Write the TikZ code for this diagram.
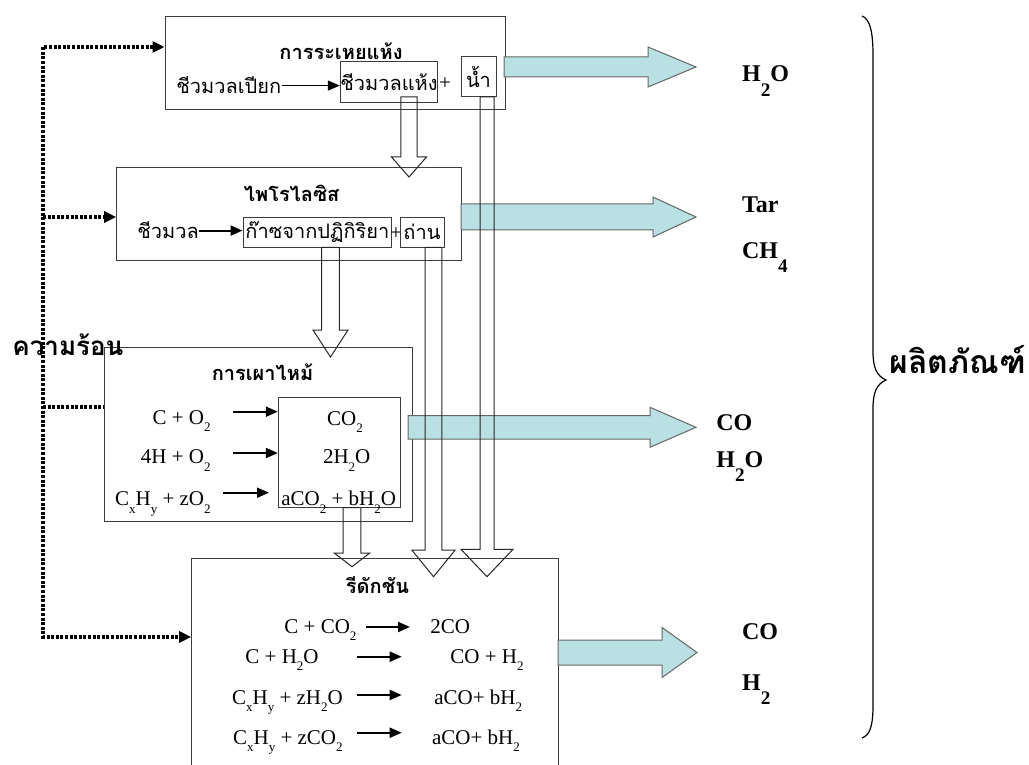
\documentclass[tikz,border=0pt]{standalone}
\usepackage{fontspec}
\setmainfont{Liberation Serif}
\newfontfamily\thai[Script=Thai]{Loma}
\usetikzlibrary{arrows.meta}

\definecolor{outflowfill}{RGB}{185,224,227}
\definecolor{boxline}{RGB}{60,60,60}

% low subscripts as in the slide
\newcommand{\csub}[1]{\raisebox{-0.38em}{\scalebox{0.62}{#1}}}
\newcommand{\bsub}[1]{\raisebox{-0.6em}{\scalebox{0.8}{#1}}}

% hollow arrow pointing down: x, y start, y tip, half shaft, half head, head length
\newcommand{\hollowdown}[6]{%
  \draw[hollow] ({#1-#4},#2) -- ({#1-#4},{#3-#6}) -- ({#1-#5},{#3-#6}) -- (#1,#3)
    -- ({#1+#5},{#3-#6}) -- ({#1+#4},{#3-#6}) -- ({#1+#4},#2) -- cycle;}

% filled arrow pointing right: x start, x head, x tip, y, half shaft, half head
\newcommand{\outarrow}[6]{%
  \draw[outflow] (#1,{#4-#5}) -- (#2,{#4-#5}) -- (#2,{#4-#6}) -- (#3,#4)
    -- (#2,{#4+#6}) -- (#2,{#4+#5}) -- (#1,{#4+#5}) -- cycle;}

\tikzset{
  procbox/.style={draw=boxline, line width=0.5pt, inner sep=0pt},
  itembox/.style={draw=boxline, line width=0.5pt, inner sep=0pt},
  thaititle/.style={font=\thai\bfseries\fontsize{10}{12}\selectfont, inner sep=0pt, anchor=base},
  thaitext/.style={font=\thai\fontsize{10}{12}\selectfont, inner sep=0pt},
  formula/.style={font=\fontsize{10.5}{12}\selectfont, inner sep=0pt},
  product/.style={font=\bfseries\fontsize{12}{14}\selectfont, inner sep=0pt, anchor=base west},
  flow/.style={line width=1pt, -{Triangle[length=6pt,width=5pt]}},
  heat/.style={line width=1.6pt, dash pattern=on 1.5pt off 0.8pt},
  hollow/.style={draw=black!85, line width=0.5pt},
  outflow/.style={draw=black!60, fill=outflowfill, line width=0.5pt},
}

\begin{document}
\begin{tikzpicture}[x=0.5pt, y=-0.5pt]
  \useasboundingbox (0,0) rectangle (1029,765);

  % Drying
  \node[procbox, minimum width=170pt, minimum height=46.5pt] (dry) at (335,63.5) {};
  \node[thaititle] (drytitle) at (341,60) {การระเหยแห้ง};
  \node[thaitext, anchor=base west] (wet) at (176,94) {ชีวมวลเปียก};
  \node[itembox, thaitext, minimum width=48pt, minimum height=20.5pt] (drybio) at (389,82.5) {ชีวมวลแห้ง};
  \node[formula] (plusa) at (445,84) {+};
  \node[itembox, thaitext, minimum width=17.5pt, minimum height=20pt] (water) at (478.5,77) {น้ำ};
  \draw[flow, line width=0.7pt] (wet.east) -- (wet.east -| drybio.west);

  % Pyrolysis
  \node[procbox, minimum width=172.5pt, minimum height=46.4pt] (pyro) at (289.2,213.6) {};
  \node[thaititle] (pyrotitle) at (291.7,201.7) {ไพโรไลซิส};
  \node[thaitext, anchor=base west] (bio) at (137,239) {ชีวมวล};
  \node[itembox, thaitext, minimum width=74.4pt, minimum height=15pt] (gas) at (317.4,232.3) {ก๊าซจากปฏิกิริยา};
  \node[formula] (plusb) at (396,234) {+};
  \node[itembox, thaitext, minimum width=22pt, minimum height=15pt] (char) at (422,232.3) {ถ่าน};
  \draw[flow] (bio.east) -- (bio.east -| gas.west);

  % Combustion
  \node[procbox, minimum width=154.2pt, minimum height=87.2pt] (comb) at (258.5,434.5) {};
  \node[thaititle] (combtitle) at (262.5,380.7) {การเผาไหม้};
  \node[itembox, minimum width=61.2pt, minimum height=55pt] (combout) at (339.5,452.7) {};
  \node[formula, anchor=base east] (c1) at (211,424) {C + O\csub{2}};
  \node[formula, anchor=base east] (c2) at (211,463.5) {4H + O\csub{2}};
  \node[formula, anchor=base east] (c3) at (211,505.5) {C\csub{x}H\csub{y} + zO\csub{2}};
  \node[formula, anchor=base] (p1) at (345,425) {CO\csub{2}};
  \node[formula, anchor=base] (p2) at (346.7,463.5) {2H\csub{2}O};
  \node[formula, anchor=base] (p3) at (338.7,505.5) {aCO\csub{2} + bH\csub{2}O};
  \coordinate (ca1) at (233,411.7);
  \coordinate (ca2) at (233,453);
  \coordinate (ca3) at (223,492.7);
  \draw[flow] (ca1) -- (ca1 -| combout.west);
  \draw[flow] (ca2) -- (ca2 -| combout.west);
  \draw[flow] (ca3) -- ++(46,0);

  % Reduction
  \node[procbox, minimum width=183.3pt, minimum height=108.4pt] (red) at (375,666.7) {};
  \node[thaititle] (redtitle) at (377.5,593) {รีดักชัน};
  \node[formula, anchor=base west] (r1) at (284,633) {C + CO\csub{2}};
  \node[formula, anchor=base west] (r2) at (245,663) {C + H\csub{2}O};
  \node[formula, anchor=base west] (r3) at (231.7,704) {C\csub{x}H\csub{y} + zH\csub{2}O};
  \node[formula, anchor=base west] (r4) at (232.7,744) {C\csub{x}H\csub{y} + zCO\csub{2}};
  \node[formula, anchor=base west] (q1) at (430,633) {2CO};
  \node[formula, anchor=base west] (q2) at (450,663) {CO + H\csub{2}};
  \node[formula, anchor=base west] (q3) at (434,704) {aCO+ bH\csub{2}};
  \node[formula, anchor=base west] (q4) at (431.7,744) {aCO+ bH\csub{2}};
  \coordinate (ra1) at (366,627);
  \coordinate (ra2) at (356.7,656.7);
  \coordinate (ra3) at (356.7,695);
  \coordinate (ra4) at (356.7,732.7);
  \draw[flow] (ra1) -- ++(44,0);
  \draw[flow] (ra2) -- ++(45,0);
  \draw[flow] (ra3) -- ++(45,0);
  \draw[flow] (ra4) -- ++(45,0);

  % products leaving each stage
  \outarrow{504}{648}{696}{67}{10}{20}
  \outarrow{461}{653}{696}{217}{13}{20}
  \outarrow{408}{650}{696}{427.3}{11.7}{20}
  \outarrow{558}{662}{697}{652.5}{12.5}{25}

  % solids and gases passed down
  \hollowdown{409}{97}{177}{8.2}{17.5}{20}
  \hollowdown{330.5}{247.3}{357}{8.8}{17.5}{27}
  \hollowdown{352}{507.7}{566.7}{8.8}{17.5}{13.5}
  \hollowdown{433.5}{247.3}{576.7}{8.3}{21.7}{26.7}
  \hollowdown{487}{97}{576.7}{7}{26}{27.4}

  % heat supply
  \coordinate (h1) at (43,47);
  \coordinate (h2) at (43,217);
  \coordinate (h3) at (43,407);
  \coordinate (h4) at (43,637);
  \draw[heat, {Triangle[length=6pt,width=5.5pt]}-{Triangle[length=6pt,width=5.5pt]}]
    (h1 -| dry.west) -- (h1) -- (h4) -- (h4 -| red.west);
  \draw[heat, -{Triangle[length=6pt,width=5.5pt]}] (h2) -- (h2 -| pyro.west);
  \draw[heat] (h3) -- (h3 -| comb.west);
  \node[font=\thai\bfseries\fontsize{13}{15}\selectfont, inner sep=0pt, anchor=base west] (heat) at (12,355) {ความร้อน};

  % product labels
  \node[product] (lwater) at (741.7,81.7) {H\bsub{2}O};
  \node[product] (ltar) at (741.7,213) {Tar};
  \node[product] (lmethane) at (741.7,258) {CH\bsub{4}};
  \node[product] (lco) at (716,430) {CO};
  \node[product] (lsteam) at (716,467) {H\bsub{2}O};
  \node[product] (lsynco) at (741.7,639) {CO};
  \node[product] (lhydrogen) at (741.7,690) {H\bsub{2}};

  % brace over all products
  \draw[line width=0.6pt] (862,16) .. controls (870,19) and (873,32) .. (873,55) -- (873,352)
    .. controls (873,368) and (877,376) .. (886,380) .. controls (877,384) and (873,392) .. (873,408)
    -- (873,705) .. controls (873,726) and (870,735) .. (862,738);
  \node[font=\thai\bfseries\fontsize{16}{18}\selectfont, inner sep=0pt, anchor=base west] (products) at (889,373) {ผลิตภัณฑ์};
\end{tikzpicture}
\end{document}
